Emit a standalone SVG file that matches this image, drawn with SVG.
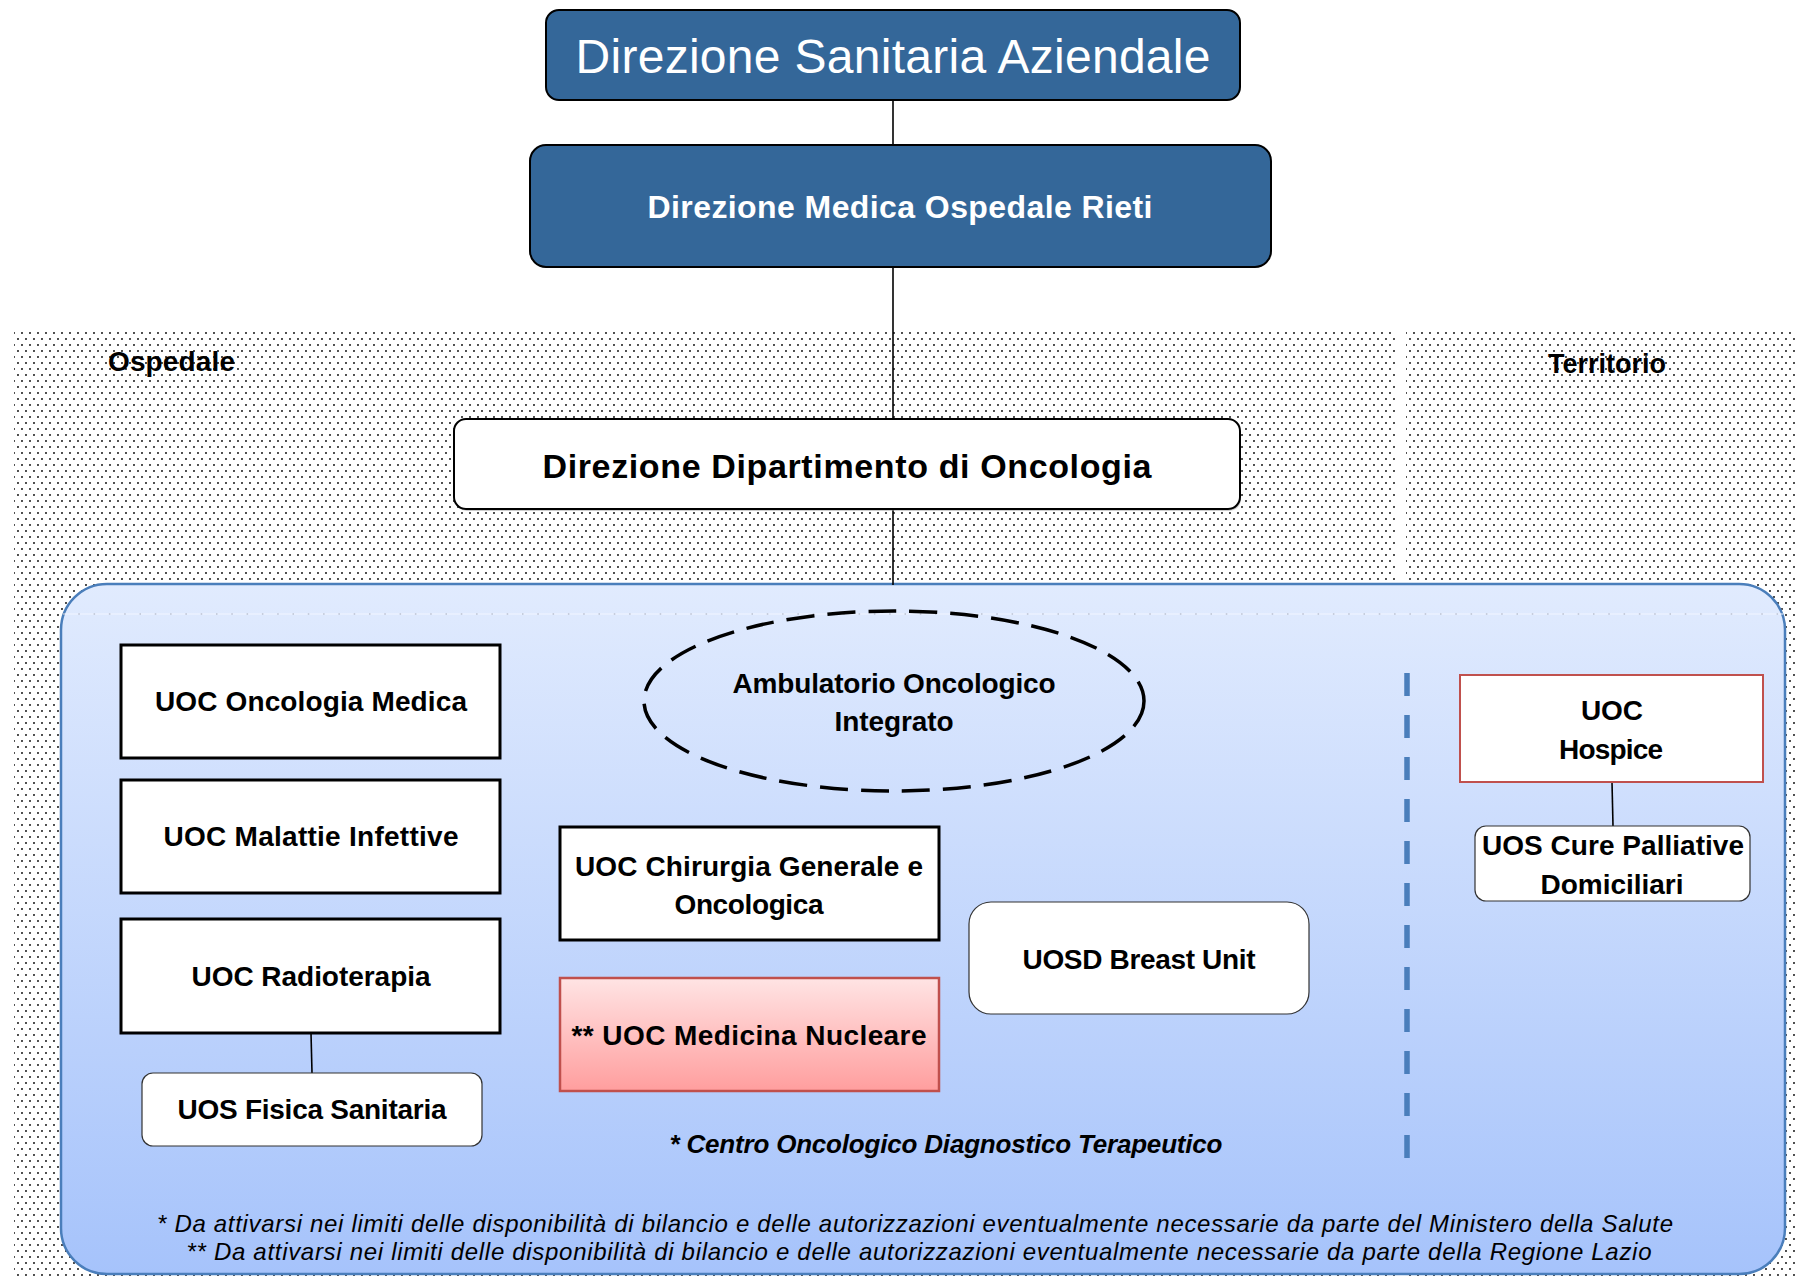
<svg xmlns="http://www.w3.org/2000/svg" width="1795" height="1276" viewBox="0 0 1795 1276">
<defs>
<pattern id="dots" x="0" y="0" width="8" height="12" patternUnits="userSpaceOnUse">
<circle cx="2" cy="3" r="1.05" fill="#222"/>
<circle cx="6" cy="9" r="1.05" fill="#222"/>
</pattern>
<linearGradient id="panelGrad" x1="0" y1="0" x2="0" y2="1">
<stop offset="0" stop-color="#E1EBFE"/>
<stop offset="1" stop-color="#A6C3FB"/>
</linearGradient>
<linearGradient id="pinkGrad" x1="0" y1="0" x2="0" y2="1">
<stop offset="0" stop-color="#FFE4E4"/>
<stop offset="1" stop-color="#FF9E9E"/>
</linearGradient>
<style>
.t{font-family:"Liberation Sans",Arial,sans-serif;}
.b{font-weight:bold;}
.n{font-size:28px;fill:#000;font-weight:bold;text-anchor:middle;}
.box{fill:#fff;stroke:#000;stroke-width:3;}
.sub{fill:#fff;stroke:#333;stroke-width:1.2;}
.blue{fill:#346799;stroke:#000;stroke-width:2;}
.conn{stroke:#000;stroke-width:1.6;fill:none;}
.foot{font-size:24px;font-style:italic;fill:#000;text-anchor:middle;}
</style>
</defs>

<rect width="1795" height="1276" fill="#fff"/>

<!-- dotted regions -->
<g id="region-ospedale">
<rect x="14" y="328" width="1382" height="948" fill="url(#dots)"/>
<text class="t b" x="108" y="371" font-size="28" textLength="127">Ospedale</text>
</g>
<g id="region-territorio">
<rect x="1406" y="328" width="389" height="948" fill="url(#dots)"/>
<text class="t b" x="1548" y="373" font-size="27" textLength="118">Territorio</text>
</g>

<!-- panel -->
<g id="panel">
<rect x="61" y="584" width="1724" height="690" rx="46" fill="url(#panelGrad)" stroke="#4A7EBB" stroke-width="2.5"/>
<line x1="63" y1="614" x2="1783" y2="614" stroke="#F2F6FF" stroke-width="1.2"/>
<line x1="63" y1="614" x2="1783" y2="614" stroke="#8a8fa0" stroke-width="1.2" stroke-dasharray="1.5 13.8" opacity="0.7"/>
<line x1="1407" y1="673" x2="1407" y2="1159" stroke="#4A7EBB" stroke-width="5.5" stroke-dasharray="23 19"/>
</g>

<!-- connectors -->
<g id="connectors">
<line class="conn" x1="893" y1="100" x2="893" y2="145"/>
<line class="conn" x1="893" y1="267" x2="893" y2="419"/>
<line class="conn" x1="893" y1="509" x2="893" y2="585"/>
<line class="conn" x1="311" y1="1033" x2="312" y2="1073"/>
<line class="conn" x1="1612" y1="782" x2="1613" y2="826"/>
</g>

<g id="direzione-sanitaria">
<rect class="blue" x="546" y="10" width="694" height="90" rx="13"/>
<text class="t" x="893" y="73" font-size="48" fill="#fff" text-anchor="middle" textLength="635">Direzione Sanitaria Aziendale</text>
</g>

<g id="direzione-medica">
<rect class="blue" x="530" y="145" width="741" height="122" rx="16"/>
<text class="t b" x="900" y="218" font-size="32" fill="#fff" text-anchor="middle" textLength="505">Direzione Medica Ospedale Rieti</text>
</g>

<g id="direzione-dipartimento">
<rect x="455" y="421" width="786" height="90" rx="12" fill="#999" opacity="0.5"/>
<rect x="454" y="419" width="786" height="90" rx="12" fill="#fff" stroke="#000" stroke-width="2"/>
<text class="t b" x="847" y="478" font-size="34" fill="#000" text-anchor="middle" textLength="609">Direzione Dipartimento di Oncologia</text>
</g>

<g id="uoc-oncologia-medica">
<rect class="box" x="121" y="645" width="379" height="113"/>
<text class="t n" x="311" y="711" textLength="312">UOC Oncologia Medica</text>
</g>

<g id="uoc-malattie-infettive">
<rect class="box" x="121" y="780" width="379" height="113"/>
<text class="t n" x="311" y="846" textLength="295">UOC Malattie Infettive</text>
</g>

<g id="uoc-radioterapia">
<rect class="box" x="121" y="919" width="379" height="114"/>
<text class="t n" x="311" y="986" textLength="239">UOC Radioterapia</text>
</g>

<g id="uos-fisica-sanitaria">
<rect class="sub" x="142" y="1073" width="340" height="73" rx="11"/>
<text class="t n" x="312" y="1119" textLength="269">UOS Fisica Sanitaria</text>
</g>

<g id="ambulatorio">
<ellipse cx="894" cy="701" rx="250" ry="90" fill="none" stroke="#000" stroke-width="3.5" stroke-dasharray="28 13"/>
<text class="t n" x="894" y="693" textLength="323">Ambulatorio Oncologico</text>
<text class="t n" x="894" y="731" textLength="119">Integrato</text>
</g>

<g id="uoc-chirurgia">
<rect class="box" x="560" y="827" width="379" height="113"/>
<text class="t n" x="749" y="876" textLength="348">UOC Chirurgia Generale e</text>
<text class="t n" x="749" y="914" textLength="149">Oncologica</text>
</g>

<g id="uoc-medicina-nucleare">
<rect x="560" y="978" width="379" height="113" fill="url(#pinkGrad)" stroke="#C0504D" stroke-width="2.5"/>
<text class="t n" x="749" y="1045" textLength="355">** UOC Medicina Nucleare</text>
</g>

<g id="uosd-breast-unit">
<rect class="sub" x="969" y="902" width="340" height="112" rx="22"/>
<text class="t n" x="1139" y="969" textLength="233">UOSD Breast Unit</text>
</g>

<g id="codt-note">
<text class="t b" x="946" y="1153" font-size="26" font-style="italic" text-anchor="middle" textLength="553">* Centro Oncologico Diagnostico Terapeutico</text>
</g>

<g id="uoc-hospice">
<rect x="1460" y="675" width="303" height="107" fill="#fff" stroke="#C0504D" stroke-width="2"/>
<text class="t n" x="1612" y="720" textLength="62">UOC</text>
<text class="t n" x="1611" y="759" textLength="104">Hospice</text>
</g>

<g id="uos-cure-palliative">
<rect class="sub" x="1475" y="826" width="275" height="75" rx="11"/>
<text class="t n" x="1613" y="855" textLength="262">UOS Cure Palliative</text>
<text class="t n" x="1612" y="894" textLength="143">Domiciliari</text>
</g>

<g id="footnotes">
<text class="t foot" x="915" y="1232" textLength="1516">* Da attivarsi nei limiti delle disponibilità di bilancio e delle autorizzazioni eventualmente necessarie da parte del Ministero della Salute</text>
<text class="t foot" x="919" y="1260" textLength="1465">** Da attivarsi nei limiti delle disponibilità di bilancio e delle autorizzazioni eventualmente necessarie da parte della Regione Lazio</text>
</g>
</svg>
